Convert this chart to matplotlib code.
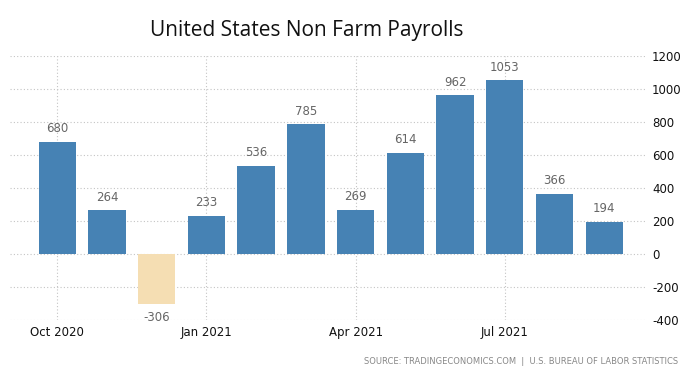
import matplotlib
matplotlib.use("Agg")
import matplotlib.pyplot as plt

months = ["Oct 2020", "Nov 2020", "Dec 2020", "Jan 2021", "Feb 2021", "Mar 2021",
          "Apr 2021", "May 2021", "Jun 2021", "Jul 2021", "Aug 2021", "Sep 2021"]
values = [680, 264, -306, 233, 536, 785, 269, 614, 962, 1053, 366, 194]
tick_idx = [0, 3, 6, 9]
tick_labels = ["Oct 2020", "Jan 2021", "Apr 2021", "Jul 2021"]
yticks = [-400, -200, 0, 200, 400, 600, 800, 1000, 1200]

fig = plt.figure(figsize=(6.9, 3.83), dpi=100)
ax = fig.add_axes([10/690, 63/383, 635/690, 264/383])

x = list(range(len(values)))
colors = ["#4682B4" if v >= 0 else "#F5DEB3" for v in values]
ax.bar(x, values, width=0.75, color=colors, zorder=2)

for xi, v in zip(x, values):
    if v >= 0:
        ax.text(xi, v + 40, str(v), ha="center", va="bottom", fontsize=8.5, color="#666666",
                family="DejaVu Sans")
    else:
        ax.text(xi, v - 40, str(v), ha="center", va="top", fontsize=8.5, color="#666666",
                family="DejaVu Sans")

ax.set_xlim(-0.95, 11.82)
ax.set_ylim(-400, 1200)
ax.yaxis.tick_right()
ax.set_yticks(yticks)
ax.set_yticklabels([str(t) for t in yticks], fontsize=8.5, color="#111111")
ax.set_xticks(tick_idx)
ax.set_xticklabels(tick_labels, fontsize=8.5, color="#111111")
ax.tick_params(axis="both", length=0, pad=4)
ax.tick_params(axis="y", pad=5)

ax.grid(True, axis="both", linestyle=(0, (1, 2)), color="#c4c4c4", linewidth=0.8, zorder=0)
for s in ax.spines.values():
    s.set_visible(False)

fig.text(0.445, 0.92, "United States Non Farm Payrolls", ha="center", va="center",
         fontsize=15, family="Open Sans", color="#111111")
fig.text(678/690, 1 - 362/383, "SOURCE: TRADINGECONOMICS.COM  |  U.S. BUREAU OF LABOR STATISTICS",
         ha="right", va="center", fontsize=6, color="#888888", family="DejaVu Sans")

fig.savefig("out.png", dpi=100)
